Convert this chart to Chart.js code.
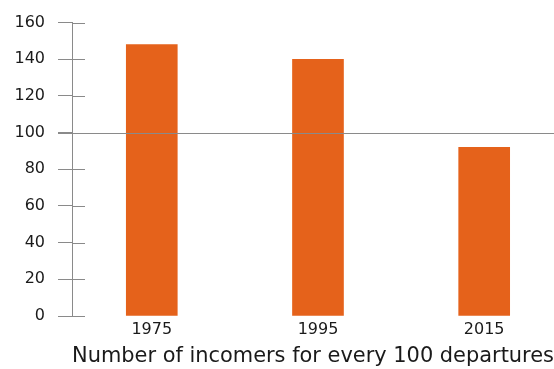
<!DOCTYPE html>
<html>
<head>
<meta charset="utf-8">
<script src="https://cdn.jsdelivr.net/npm/chart.js@4"></script>
<style>
  body { margin: 0; background: #fff; }
  #wrap { width: 554px; height: 369px; }
</style>
</head>
<body>
<div id="wrap"><canvas id="myChart"></canvas></div>
<script>
const years = [1975, 1995, 2015]
const incomers = [148, 140, 92]
const yTicks = [0, 20, 40, 60, 80, 100, 120, 140, 160]
const referenceLevel = 100
const xTitle = 'Number of incomers for every 100 departures'

const fontFamily = '"DejaVu Sans", sans-serif'
const axisGrey = '#8a8a8a'

// short tick marks that cross the y axis, plus the 100 line over the bars
const axisMarks = {
    id: 'axisMarks',
    afterDatasetsDraw(chart) {
        const c = chart.ctx
        const y = chart.scales.y
        const left = chart.chartArea.left
        c.save()
        c.strokeStyle = axisGrey
        c.lineWidth = 1
        y.ticks.forEach(t => {
            const py = Math.round(y.getPixelForValue(t.value)) + 0.5
            c.beginPath()
            c.moveTo(left, py)
            c.lineTo(left + 13, py)
            c.stroke()
        })
        const ry = Math.round(y.getPixelForValue(referenceLevel)) + 0.5
        c.beginPath()
        c.moveTo(left - 14, ry)
        c.lineTo(chart.width, ry)
        c.stroke()
        c.restore()
    }
}

const ctx = document.getElementById('myChart')

const myChart = new Chart(ctx, {
    type: 'bar',
    data: {
        datasets: [{
            data: years.map((yr, i) => ({ x: yr, y: incomers[i] })),
            backgroundColor: '#e5621b',
            borderWidth: 0,
            barThickness: 51
        }]
    },
    options: {
        responsive: true,
        maintainAspectRatio: false,
        animation: false,
        layout: { padding: { top: 22, right: 0, bottom: 0, left: 0 } },
        plugins: {
            legend: { display: false },
            tooltip: { enabled: false }
        },
        scales: {
            x: {
                type: 'linear',
                offset: false,
                min: 1965.4,
                max: 2023.4,
                afterBuildTicks: s => { s.ticks = years.map(v => ({ value: v })) },
                afterFit: s => { s.height = 53 },
                grid: { display: false },
                border: { display: false },
                ticks: {
                    color: '#1a1a1a',
                    padding: -4,
                    maxRotation: 0,
                    font: { family: fontFamily, size: 16 },
                    callback: v => String(v)
                },
                title: {
                    display: true,
                    text: xTitle,
                    color: '#1a1a1a',
                    padding: { top: 2, bottom: 0 },
                    font: { family: fontFamily, size: 21 }
                }
            },
            y: {
                min: 0,
                max: 160,
                afterBuildTicks: s => { s.ticks = yTicks.map(v => ({ value: v })) },
                afterFit: s => { s.width = 72 },
                grid: {
                    drawOnChartArea: false,
                    drawTicks: true,
                    tickLength: 14,
                    color: axisGrey
                },
                border: { display: true, color: axisGrey },
                ticks: {
                    color: '#1a1a1a',
                    padding: 13,
                    font: { family: fontFamily, size: 16 }
                }
            }
        }
    },
    plugins: [axisMarks]
})
</script>
</body>
</html>
